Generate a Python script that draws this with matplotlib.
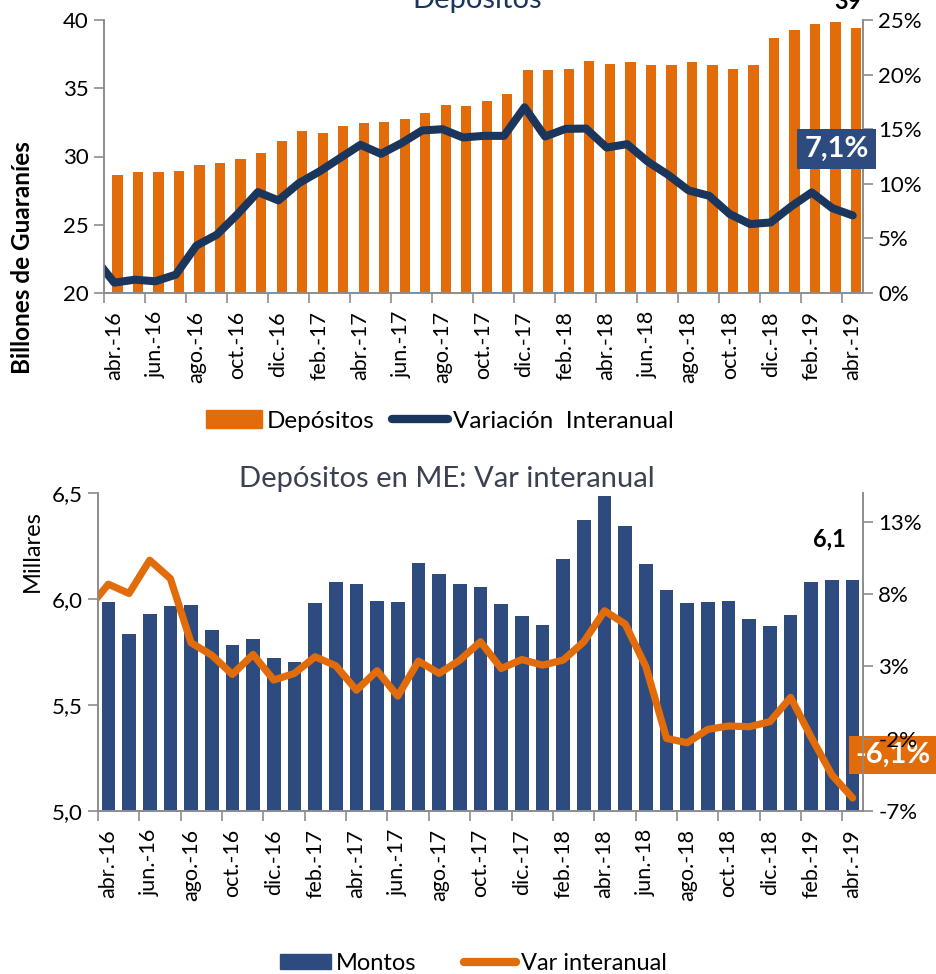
import numpy as np
import matplotlib.pyplot as plt
from matplotlib.patches import Patch
from matplotlib.lines import Line2D
from matplotlib.ticker import FuncFormatter

plt.rcParams['font.family'] = ['Lato', 'DejaVu Sans']

# meses (abr.-16 .. abr.-19)
meses = ['abr.-16', 'may.-16', 'jun.-16', 'jul.-16', 'ago.-16', 'sep.-16', 'oct.-16', 'nov.-16',
         'dic.-16', 'ene.-17', 'feb.-17', 'mar.-17', 'abr.-17', 'may.-17', 'jun.-17', 'jul.-17',
         'ago.-17', 'sep.-17', 'oct.-17', 'nov.-17', 'dic.-17', 'ene.-18', 'feb.-18', 'mar.-18',
         'abr.-18', 'may.-18', 'jun.-18', 'jul.-18', 'ago.-18', 'sep.-18', 'oct.-18', 'nov.-18',
         'dic.-18', 'ene.-19', 'feb.-19', 'mar.-19', 'abr.-19']

# Depositos totales (billones de Gs.) y variacion interanual (%)
depositos = [28.66, 28.85, 28.83, 28.93, 29.41, 29.54, 29.83, 30.29, 31.12, 31.85,
             31.73, 32.24, 32.49, 32.51, 32.76, 33.17, 33.76, 33.73, 34.10, 34.59,
             36.37, 36.37, 36.41, 37.02, 36.80, 36.93, 36.73, 36.73, 36.90, 36.71,
             36.44, 36.73, 38.66, 39.24, 39.73, 39.88, 39.39]
var_dep_mar16 = 3.3   # mes previo, queda recortado en el borde
var_dep = [0.95, 1.22, 1.07, 1.68, 4.33, 5.34, 7.2, 9.24, 8.48, 10.06,
           11.13, 12.35, 13.57, 12.74, 13.72, 14.88, 15.0, 14.24, 14.39, 14.39,
           17.01, 14.33, 15.03, 15.06, 13.32, 13.63, 12.04, 10.82, 9.39, 8.90,
           7.23, 6.31, 6.46, 7.93, 9.21, 7.77, 7.1]

# Depositos en ME (millares) y variacion interanual (%)
montos_me = [5.987, 5.834, 5.929, 5.965, 5.970, 5.856, 5.782, 5.812, 5.722, 5.702,
             5.982, 6.081, 6.069, 5.992, 5.987, 6.168, 6.119, 6.069, 6.056, 5.977,
             5.921, 5.878, 6.190, 6.373, 6.487, 6.346, 6.163, 6.044, 5.982, 5.987,
             5.989, 5.907, 5.872, 5.926, 6.080, 6.088, 6.088]
var_me_mar16 = 6.95
var_me = [8.69, 8.05, 10.35, 9.08, 4.64, 3.78, 2.45, 3.83, 2.06, 2.52,
          3.67, 3.05, 1.36, 2.70, 0.95, 3.37, 2.52, 3.44, 4.71, 2.86,
          3.48, 3.09, 3.44, 4.71, 6.85, 5.93, 2.98, -1.98, -2.28, -1.35,
          -1.12, -1.17, -0.82, 0.86, -1.91, -4.51, -6.1]

naranja = '#E36C0A'
azul_osc = '#1B365D'
azul = '#2D4B7E'
gris = '#8C8C8C'

W, H = 937, 974
fig = plt.figure(figsize=(W / 100, H / 100), dpi=100)
x = np.arange(len(meses))
x_prev = np.arange(-1, len(meses))


def estilo(ax, axr):
    ax.set_xlim(-0.5, len(meses) - 0.5)
    for a in (ax, axr):
        a.spines['top'].set_visible(False)
        for s in ('left', 'right', 'bottom'):
            a.spines[s].set_color(gris)
            a.spines[s].set_linewidth(1.2)
    ax.set_xticks(x[::2])
    ax.set_xticklabels(meses[::2], rotation=90, fontsize=15.5)
    ax.tick_params(axis='x', which='major', length=0, pad=13)
    ax.set_xticks(np.arange(-0.5, len(meses), 2), minor=True)
    ax.tick_params(axis='x', which='minor', length=7, color=gris, width=1.2)
    ax.tick_params(axis='y', length=7, color=gris, width=1.2, labelsize=16, pad=4)
    axr.tick_params(axis='y', length=7, color=gris, width=1.2, labelsize=16, pad=4)


# ---- grafico superior: Depositos
ax1 = fig.add_axes([104 / W, 1 - 293 / H, 759 / W, 273 / H])
ax1r = ax1.twinx()
ax1.bar(x + 0.16, depositos, width=0.5, color=naranja)
ax1.set_ylim(20, 40)
ax1.set_yticks([20, 25, 30, 35, 40])
ax1r.plot(x_prev, [var_dep_mar16] + var_dep, color=azul_osc, lw=5.8,
          solid_capstyle='round', solid_joinstyle='round')
ax1r.set_ylim(0, 25)
ax1r.set_yticks([0, 5, 10, 15, 20, 25])
ax1r.yaxis.set_major_formatter(FuncFormatter(lambda v, p: f'{v:.0f}%'))
estilo(ax1, ax1r)
ax1.set_ylabel('Billones de Guaraníes', fontsize=17.5, fontweight='bold')
ax1.yaxis.set_label_coords(-70 / 759, (293 - 258) / 273)

ax1.annotate(f'{depositos[-1]:.0f}', (x[-1] + 0.16, depositos[-1]), xytext=(-6, 11),
             textcoords='offset points', ha='center', va='bottom', fontsize=17,
             fontweight='bold', annotation_clip=False)
ax1r.annotate(f'{var_dep[-1]:.1f}%'.replace('.', ','), (x[-1], var_dep[-1]), xytext=(-11.5, 48),
              textcoords='offset points', ha='center', va='center', fontsize=21,
              fontweight='bold', color='white', annotation_clip=False,
              bbox=dict(boxstyle='square,pad=0.25', fc=azul, ec='none'))

fig.text(477 / W, 1 - 8 / H, 'Depósitos', ha='center', va='baseline', fontsize=21, color=azul_osc)

fig.legend([Patch(color=naranja), Line2D([], [], color=azul_osc, lw=6, solid_capstyle='round')],
           ['Depósitos', 'Variación  Interanual'], loc='center',
           bbox_to_anchor=(440 / W, 1 - 421 / H), ncol=2, frameon=False, fontsize=17.5,
           handlelength=2.3, handleheight=0.75, columnspacing=0.7, handletextpad=0.2)

# ---- grafico inferior: Depositos en ME
ax2 = fig.add_axes([98 / W, 1 - 811 / H, 765 / W, 318 / H])
ax2r = ax2.twinx()
ax2.bar(x, montos_me, width=0.66, color=azul)
ax2.set_ylim(5.0, 6.5)
ax2.set_yticks([5.0, 5.5, 6.0, 6.5])
ax2.yaxis.set_major_formatter(FuncFormatter(lambda v, p: f'{v:.1f}'.replace('.', ',')))
ax2r.plot(x_prev, [var_me_mar16] + var_me, color=naranja, lw=5.2,
          solid_capstyle='round', solid_joinstyle='round')
ax2r.set_ylim(-7, 15)
ax2r.set_yticks([-7, -2, 3, 8, 13])
ax2r.yaxis.set_major_formatter(FuncFormatter(lambda v, p: f'{v:.0f}%'))
estilo(ax2, ax2r)
ax2.set_ylabel('Millares', fontsize=17)
ax2.yaxis.set_label_coords(-55 / 765, (811 - 551) / 318)

ax2.annotate(f'{montos_me[-1]:.1f}'.replace('.', ','), (x[-1], montos_me[-1]), xytext=(-17, 30),
             textcoords='offset points', ha='center', va='center', fontsize=17,
             fontweight='bold', annotation_clip=False)
# caja por debajo de las etiquetas del eje (el "-2%" queda encima)
ax2r.annotate(f'{var_me[-1]:.1f}%'.replace('.', ','), (x[-1], var_me[-1]), xytext=(29, 31),
              textcoords='offset points', ha='center', va='center', fontsize=21,
              fontweight='bold', color='white', annotation_clip=False, zorder=1,
              bbox=dict(boxstyle='square,pad=0.22', fc=naranja, ec='none'))

fig.text(447 / W, 1 - 487 / H, 'Depósitos en ME: Var interanual', ha='center', va='baseline',
         fontsize=21, color='#3A4150')

fig.legend([Patch(color=azul), Line2D([], [], color=naranja, lw=6, solid_capstyle='round')],
           ['Montos', 'Var interanual'], loc='center',
           bbox_to_anchor=(473 / W, 1 - 963 / H), ncol=2, frameon=False, fontsize=17,
           handlelength=2.2, handleheight=0.6, columnspacing=2.0, handletextpad=0.2)

fig.savefig('out.png', dpi=100)
